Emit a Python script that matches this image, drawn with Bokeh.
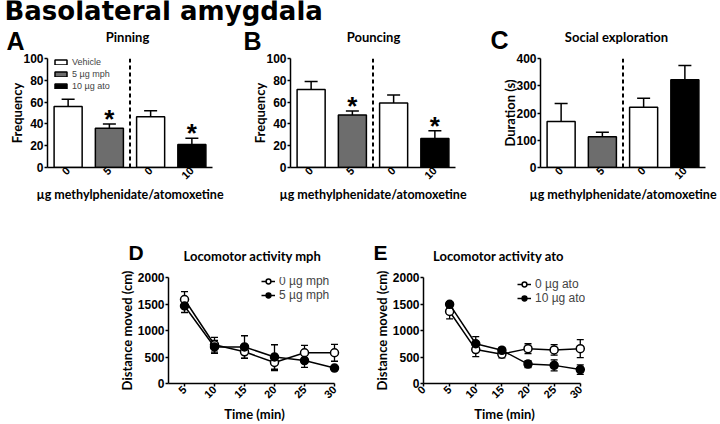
import math
from bokeh.plotting import figure
from bokeh.layouts import column, row
from bokeh.models import (ColumnDataSource, Span, Whisker, TeeHead, Label,
                          Legend, LegendItem, FixedTicker)
from bokeh.core.properties import value
from bokeh.embed import file_html
from bokeh.resources import INLINE

# ---------------- data ----------------
MAIN_TITLE = "Basolateral amygdala"
dose_positions = [1, 2, 3, 4]
dose_labels = ["0", "5", "0", "10"]
dose_colors = ["#ffffff", "#6d6d6d", "#ffffff", "#000000"]
bar_legend_labels = ["Vehicle", "5 µg mph", "10 µg ato"]
bar_legend_index = [0, 1, 3]
dose_axis_label = "µg methylphenidate/atomoxetine"

pinning_mean = [56.0, 36.0, 46.5, 21.0]
pinning_sem = [6.7, 4.0, 5.5, 5.8]
pinning_sig = [False, True, False, True]

pouncing_mean = [71.5, 48.2, 59.2, 26.7]
pouncing_sem = [7.3, 3.7, 7.4, 7.0]
pouncing_sig = [False, True, False, True]

social_mean = [169.0, 113.0, 221.0, 322.0]
social_sem = [66.0, 16.0, 33.0, 52.0]
social_sig = [False, False, False, False]

time_min = [5, 10, 15, 20, 25, 30]
mph_0_mean = [1585, 731, 598, 397, 580, 580]
mph_0_sem = [150, 140, 123, 154, 140, 160]
mph_5_mean = [1462, 689, 689, 500, 433, 292]
mph_5_sem = [122, 122, 212, 231, 128, 22]
ato_0_mean = [1359, 640, 554, 658, 634, 658]
ato_0_sem = [140, 134, 70, 92, 100, 170]
ato_10_mean = [1494, 750, 627, 366, 342, 262]
ato_10_sem = [50, 133, 55, 65, 105, 88]

d_ticks = [5, 10, 15, 20, 25, 30]
e_ticks = [0, 5, 10, 15, 20, 25, 30]
dist_ticks = [0, 500, 1000, 1500, 2000]


def style(p, ylab_standoff):
    p.grid.visible = False
    p.outline_line_color = None
    for ax in p.axis:
        ax.axis_line_color = "black"
        ax.axis_line_width = 1.5
        ax.major_tick_line_color = "black"
        ax.major_tick_line_width = 1.5
        ax.major_tick_out = 3
        ax.major_tick_in = 0
        ax.minor_tick_out = 0
        ax.minor_tick_in = 0
        ax.major_label_text_font = "Liberation Sans"
        ax.major_label_text_font_style = "bold"
        ax.major_label_text_color = "black"
        ax.major_label_standoff = 1
        ax.axis_label_text_font = "Lato"
        ax.axis_label_text_font_style = "bold"
        ax.axis_label_text_color = "black"
        ax.axis_label_text_font_size = "13px"
    p.yaxis.major_label_text_font_size = "12px"
    p.yaxis.axis_label_standoff = ylab_standoff
    p.xaxis.major_label_text_font_size = "11px"
    p.xaxis.major_label_orientation = math.pi / 4
    p.xaxis.axis_label_standoff = 1


def header(width, height, items):
    h = figure(width=width, height=height, x_axis_type=None, y_axis_type=None,
               x_range=(0, 1), y_range=(0, 1), min_border=0,
               output_backend="svg", toolbar_location=None)
    h.outline_line_color = None
    for (x, y, txt, font, size, align) in items:
        h.add_layout(Label(x=x, y=y, x_units="screen", y_units="screen", text=txt,
                           text_font=font, text_font_style="bold", text_font_size=size,
                           text_align=align, text_baseline="alphabetic",
                           text_color="black"))
    return h


def bar_panel(mean, sem, sig, ymax, ystep, ylabel, width, left, right, legend=False):
    upper = [m + s for m, s in zip(mean, sem)]
    src = ColumnDataSource(dict(x=dose_positions, top=mean, upper=upper, color=dose_colors))
    p = figure(width=width, height=154, x_range=(0.5, 4.5), y_range=(0, ymax),
               output_backend="svg", toolbar_location=None,
               min_border_left=left, min_border_right=right,
               min_border_top=8, min_border_bottom=37)
    p.add_layout(Whisker(base="x", upper="upper", lower="top", source=src,
                         line_color="black", line_width=1.5,
                         upper_head=TeeHead(size=13, line_color="black", line_width=1.5),
                         lower_head=None))
    r = p.vbar(x="x", top="top", width=0.68, fill_color="color", line_color="black",
               line_width=1.5, source=src)
    sx = [x for x, s in zip(dose_positions, sig) if s]
    sy = [u for u, s in zip(upper, sig) if s]
    if sx:
        p.text(x=sx, y=sy, text=["*"] * len(sx), text_align="center",
               text_baseline="alphabetic", text_font=value("Liberation Sans"),
               text_font_style="bold", text_font_size="26px", y_offset=-5,
               text_color="black")
    p.add_layout(Span(location=(dose_positions[1] + dose_positions[2]) / 2,
                      dimension="height", line_color="black", line_width=2,
                      line_dash="4 3"))
    style(p, -5)
    p.xaxis.ticker = FixedTicker(ticks=dose_positions)
    p.xaxis.major_label_overrides = {pos: lab for pos, lab in zip(dose_positions, dose_labels)}
    p.xaxis.major_tick_out = 0
    p.xaxis.axis_label = dose_axis_label
    p.xaxis.axis_label_text_font_size = "12.5px"
    p.yaxis.ticker = FixedTicker(ticks=list(range(0, ymax + 1, ystep)))
    p.yaxis.axis_label = ylabel
    p.yaxis.bounds = (0, ymax)
    if legend:
        items = [LegendItem(label=lab, renderers=[r], index=i)
                 for lab, i in zip(bar_legend_labels, bar_legend_index)]
        lg = Legend(items=items, location=(6, 75), orientation="vertical",
                    glyph_width=15, glyph_height=6, label_height=12,
                    label_text_font="Liberation Sans", label_text_font_size="9px",
                    label_text_line_height=1.0,
                    label_standoff=4, spacing=0, padding=0, margin=0,
                    border_line_color=None, background_fill_alpha=0)
        p.add_layout(lg)
    return p


def line_panel(series, ticks, x_start, width, left, right, leg_loc):
    p = figure(width=width, height=155, x_range=(x_start, 31), y_range=(0, 2000),
               output_backend="svg", toolbar_location=None,
               min_border_left=left, min_border_right=right,
               min_border_top=8, min_border_bottom=38)
    items = []
    for label, mean, sem, fill in series:
        src = ColumnDataSource(dict(t=time_min, m=mean,
                                    lo=[m - s for m, s in zip(mean, sem)],
                                    hi=[m + s for m, s in zip(mean, sem)]))
        p.add_layout(Whisker(base="t", upper="hi", lower="lo", source=src,
                             line_color="black", line_width=1.3,
                             upper_head=TeeHead(size=7, line_color="black", line_width=1.3),
                             lower_head=TeeHead(size=7, line_color="black", line_width=1.3)))
        lr = p.line("t", "m", source=src, line_color="black", line_width=1.5)
        sr = p.scatter("t", "m", source=src, marker="circle", size=8, fill_color=fill,
                       line_color="black", line_width=1.5)
        items.append(LegendItem(label=label, renderers=[lr, sr]))
    style(p, 0)
    p.xaxis.ticker = FixedTicker(ticks=ticks)
    p.xaxis.bounds = (x_start, max(time_min))
    p.xaxis.axis_label = "Time (min)"
    p.yaxis.ticker = FixedTicker(ticks=dist_ticks)
    p.yaxis.bounds = (0, max(dist_ticks))
    p.yaxis.axis_label = "Distance moved (cm)"
    lg = Legend(items=items, location=leg_loc, orientation="vertical",
                glyph_width=14, glyph_height=12, label_height=12,
                label_text_font="Liberation Sans", label_text_font_size="12px",
                label_text_line_height=0.9,
                label_standoff=4, spacing=0, padding=0, margin=0,
                border_line_color=None, background_fill_alpha=0)
    p.add_layout(lg)
    return p


# ---------------- figures ----------------
top_header = header(720, 50, [
    (4, 40, MAIN_TITLE, "DejaVu Sans", "26px", "left"),
    (6, 10, "A", "Liberation Sans", "25px", "left"),
    (127, 14, "Pinning", "Lato", "13px", "center"),
    (243, 10, "B", "Liberation Sans", "25px", "left"),
    (373, 14, "Pouncing", "Lato", "13px", "center"),
    (490, 11, "C", "Liberation Sans", "25px", "left"),
    (616, 14, "Social exploration", "Lato", "13px", "center"),
])

pa = bar_panel(pinning_mean, pinning_sem, pinning_sig, 100, 20, "Frequency",
               232, 47, 20, legend=True)
pb = bar_panel(pouncing_mean, pouncing_sem, pouncing_sig, 100, 20, "Frequency",
               238, 58, 15)
pc = bar_panel(social_mean, social_sem, social_sig, 400, 100, "Duration (s)",
               250, 70, 15)

bottom_header = header(720, 65, [
    (128, 17, "D", "Liberation Sans", "21px", "left"),
    (252, 14, "Locomotor activity mph", "Lato", "13px", "center"),
    (373, 17, "E", "Liberation Sans", "21px", "left"),
    (498, 14, "Locomotor activity ato", "Lato", "13px", "center"),
])

pd = line_panel([("0 µg mph", mph_0_mean, mph_0_sem, "white"),
                 ("5 µg mph", mph_5_mean, mph_5_sem, "black")],
                d_ticks, 2.33, 370, 168, 30, (93, 81))
pe = line_panel([("0 µg ato", ato_0_mean, ato_0_sem, "white"),
                 ("10 µg ato", ato_10_mean, ato_10_sem, "black")],
                e_ticks, 0, 350, 46, 135, (94, 78))

layout = column(top_header, row(pa, pb, pc), bottom_header, row(pd, pe))

open("out.html", "w").write(file_html(layout, INLINE))
